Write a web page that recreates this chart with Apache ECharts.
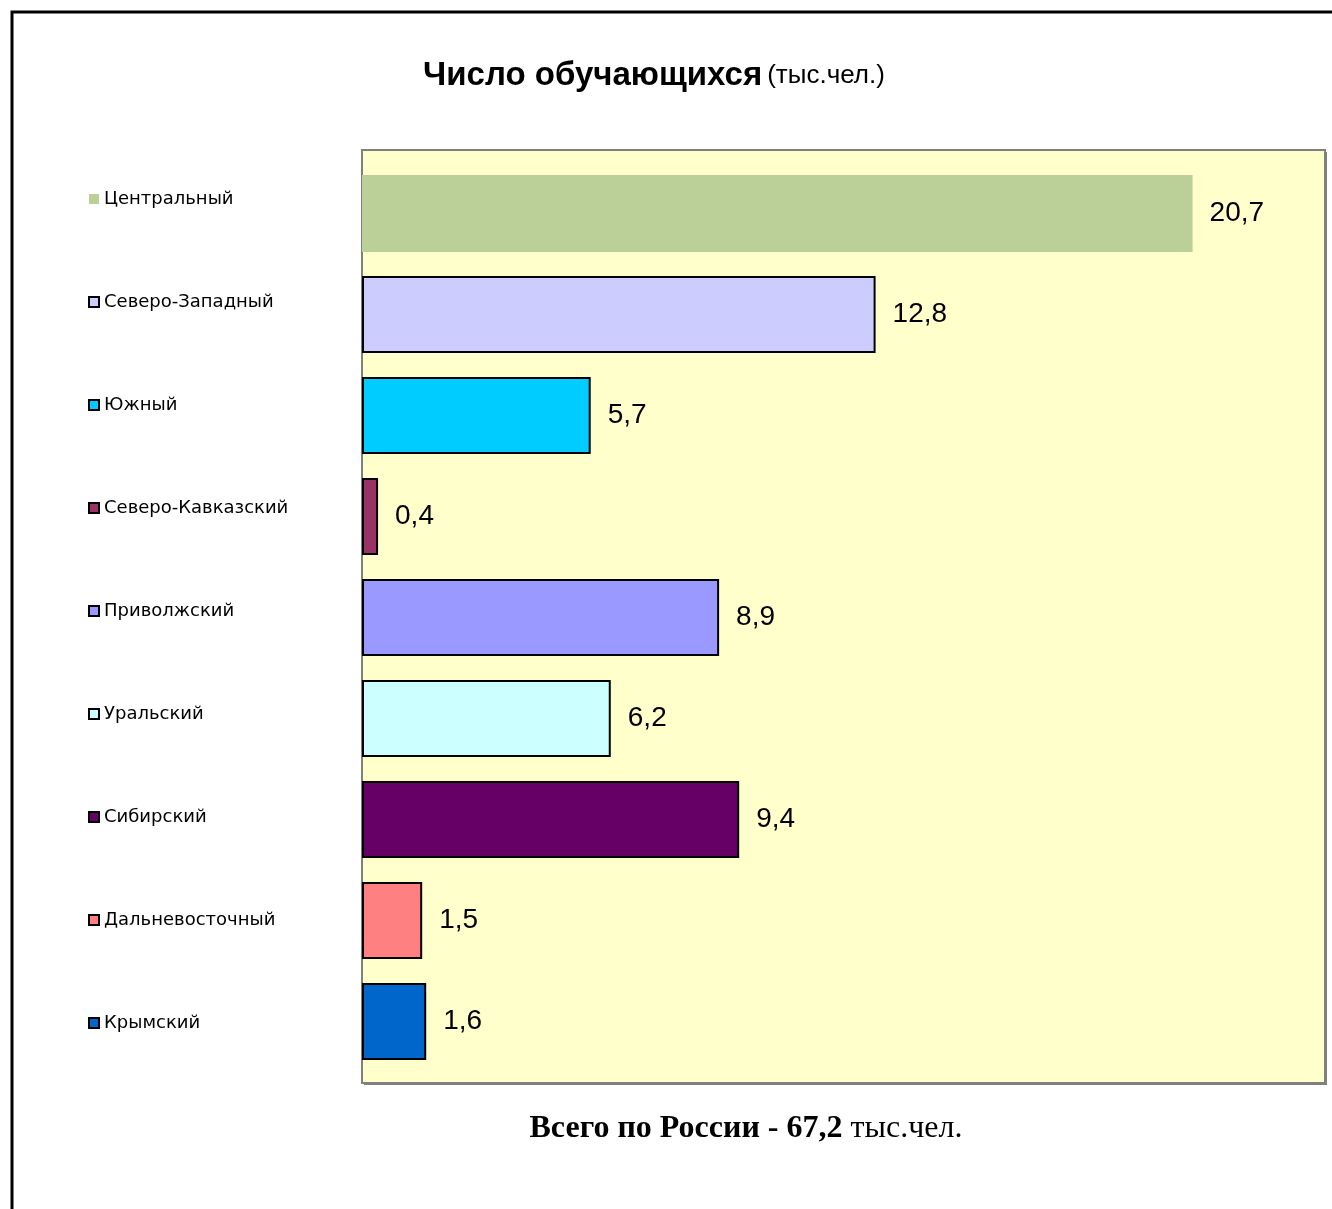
<!DOCTYPE html>
<html>
<head>
<meta charset="utf-8">
<script src="https://cdn.jsdelivr.net/npm/echarts@6/dist/echarts.min.js"></script>
<style>
  html, body { margin: 0; padding: 0; background: #fff; }
  #chart { width: 1332px; height: 1209px; }
</style>
</head>
<body>
<div id="chart"></div>
<script>
// округа и число обучающихся (тыс.чел.)
var regions = ['Центральный', 'Северо-Западный', 'Южный', 'Северо-Кавказский', 'Приволжский',
  'Уральский', 'Сибирский', 'Дальневосточный', 'Крымский'];
var students = [20.7, 12.8, 5.7, 0.4, 8.9, 6.2, 9.4, 1.5, 1.6];
var barColors = ['#BBCF98', '#CCCCFF', '#00CCFF', '#993366', '#9999FF', '#CCFFFF', '#660066', '#FF8080', '#0066CC'];
var totalText = '67,2';

var myChart = echarts.init(document.getElementById('chart'));

// каждый округ отдельной серией, чтобы была легенда
var series = regions.map(function (name, i) {
  return {
    name: name,
    type: 'bar',
    stack: 'all',
    barWidth: 77,
    data: students.map(function (v, j) { return j === i ? v : '-'; }),
    itemStyle: {
      color: barColors[i],
      borderColor: i === 0 ? barColors[i] : '#000',
      borderWidth: i === 0 ? 0 : 2
    },
    label: {
      show: true,
      position: 'right',
      distance: 17,
      color: '#000',
      fontFamily: 'Liberation Sans',
      fontSize: 28,
      formatter: function (p) { return String(p.value).replace('.', ','); }
    },
    z: 3
  };
});

var option = {
  animation: false,
  title: {
    text: '{b|Число обучающихся} {n|(тыс.чел.)}',
    left: 649,
    top: 54,
    textAlign: 'center',
    textStyle: {
      rich: {
        b: { fontFamily: 'Liberation Sans', fontWeight: 'bold', fontSize: 33, color: '#000' },
        n: { fontFamily: 'Liberation Sans', fontWeight: 'normal', fontSize: 26, color: '#000' }
      }
    }
  },
  legend: {
    orient: 'vertical',
    left: 83,
    top: 185,
    itemWidth: 10,
    itemHeight: 10,
    itemGap: 85,
    icon: 'rect',
    selectedMode: false,
    textStyle: { fontFamily: 'DejaVu Sans', fontSize: 18, lineHeight: 16, color: '#000' },
    data: regions
  },
  grid: {
    left: 362,
    top: 163,
    width: 963,
    height: 909
  },
  xAxis: {
    type: 'value',
    min: 0,
    max: 24,
    show: false
  },
  yAxis: {
    type: 'category',
    data: regions,
    inverse: true,
    show: false
  },
  graphic: [
    { // внешняя рамка
      type: 'rect',
      shape: { x: 12, y: 12, width: 1360, height: 1300 },
      style: { fill: 'none', stroke: '#000', lineWidth: 3 },
      z: 0
    },
    { // тень области построения
      type: 'rect',
      shape: { x: 364, y: 152, width: 963, height: 933 },
      style: { fill: '#808080' },
      z: 0
    },
    {
      type: 'rect',
      shape: { x: 362, y: 150, width: 963, height: 933 },
      style: { fill: '#FFFFCC', stroke: '#808080', lineWidth: 2 },
      z: 1
    },
    {
      type: 'text',
      x: 746,
      y: 1129,
      style: {
        text: '{b|Всего по России - ' + totalText + ' }{n|тыс.чел.}',
        align: 'center',
        verticalAlign: 'middle',
        rich: {
          b: { fontFamily: 'Liberation Serif', fontWeight: 'bold', fontSize: 32, fill: '#000' },
          n: { fontFamily: 'Liberation Serif', fontWeight: 'normal', fontSize: 32, fill: '#000' }
        }
      },
      z: 1
    }
  ],
  series: series
};

myChart.setOption(option);
window.addEventListener('resize', function () {
  myChart.resize();
});
</script>
</body>
</html>
